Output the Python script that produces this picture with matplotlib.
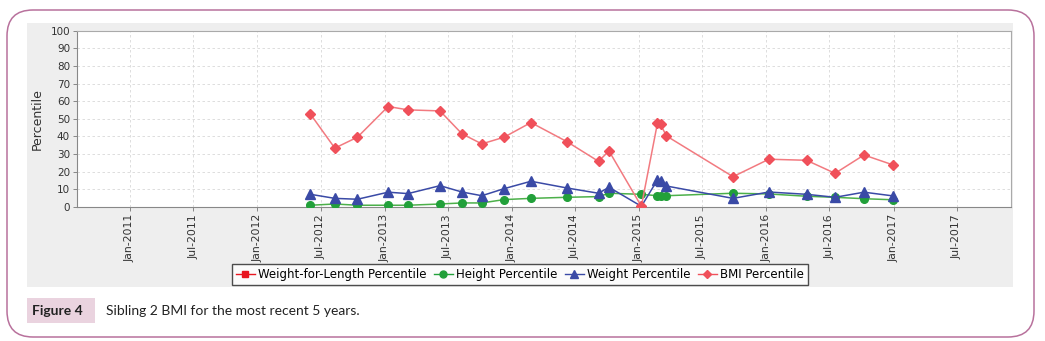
import datetime as dt

import matplotlib

matplotlib.use("Agg")
import matplotlib.pyplot as plt         # noqa: E402
from matplotlib.lines import Line2D     # noqa: E402
from matplotlib.patches import FancyBboxPatch, Rectangle  # noqa: E402

plt.rcParams["font.family"] = ["DejaVu Sans"]

# visit dates (Height / Weight / BMI were all measured at the same visits)
visit_dates = [
    "2012-06-02", "2012-08-11", "2012-10-15", "2013-01-11", "2013-03-09",
    "2013-06-09", "2013-08-11", "2013-10-07", "2013-12-10", "2014-02-25",
    "2014-06-08", "2014-09-07", "2014-10-07", "2015-01-08", "2015-02-23",
    "2015-03-04", "2015-03-21", "2015-09-28", "2016-01-09", "2016-04-26",
    "2016-07-17", "2016-10-08", "2016-12-30",
]
height_pct = [1.0, 1.7, 1.0, 1.0, 1.0, 1.7, 2.3, 2.3, 4.2, 4.9, 5.5, 5.9,
              7.8, 7.2, 6.4, 6.4, 6.4, 7.8, 7.4, 6.1, 5.5, 4.7, 4.1]
weight_pct = [7.2, 4.9, 4.4, 8.4, 7.6, 12.1, 8.5, 6.4, 10.4, 14.6, 10.8, 7.8,
              11.2, 0.4, 15.3, 15.0, 11.9, 4.9, 8.5, 7.2, 5.5, 8.4, 6.3]
bmi_pct = [52.7, 33.4, 39.6, 57.0, 55.1, 54.5, 41.5, 35.8, 39.6, 47.9, 37.1,
           25.9, 31.8, 0.4, 47.4, 46.8, 40.3, 17.2, 27.1, 26.5, 19.1, 29.5, 23.9]
wfl_pct = []  # no weight-for-length measurements in this period

tick_labels = ["Jan-2011", "Jul-2011", "Jan-2012", "Jul-2012", "Jan-2013",
               "Jul-2013", "Jan-2014", "Jul-2014", "Jan-2015", "Jul-2015",
               "Jan-2016", "Jul-2016", "Jan-2017", "Jul-2017"]
y_ticks = list(range(0, 101, 10))

W, H = 1045, 341
fig = plt.figure(figsize=(W / 100, H / 100), dpi=100)

# background layer in pixel coordinates: frame, grey panel, caption
bg = fig.add_axes([0, 0, 1, 1], zorder=0)
bg.set_xlim(0, W)
bg.set_ylim(H, 0)
bg.axis("off")
bg.add_patch(FancyBboxPatch((7, 10), 1027, 327,
                            boxstyle="round,pad=0,rounding_size=26",
                            fc="white", ec="#b8719c", lw=1.1))
bg.add_patch(Rectangle((27, 23), 986, 264, fc="#eeeeee", ec="none"))
bg.add_patch(Rectangle((27, 298), 68, 25, fc="#ead3df", ec="none"))
bg.text(32, 311, "Figure 4", fontsize=10, fontweight="bold",
        family=["Lato", "DejaVu Sans"], va="center", ha="left", color="#222222")
bg.text(106, 311, "Sibling 2 BMI for the most recent 5 years.", fontsize=10,
        family=["Lato", "DejaVu Sans"], va="center", ha="left", color="#222222")

# plot area
left, right, top, bottom = 77, 1011, 30.7, 207
ax = fig.add_axes([left / W, 1 - bottom / H, (right - left) / W, (bottom - top) / H],
                  zorder=1)
ax.set_facecolor("white")

dates = [dt.datetime.strptime(d, "%Y-%m-%d") for d in visit_dates]

ax.plot([], [], color="#e8151f", marker="s", markersize=5, lw=1)
ax.plot(dates, height_pct, color="#4cb04a", lw=1.1, marker="o", markersize=5.5,
        markerfacecolor="#22a03a", markeredgecolor="#22a03a", zorder=3)
ax.plot(dates, weight_pct, color="#3a4aa6", lw=1.1, marker="^", markersize=6.5,
        markerfacecolor="#3a4aa6", markeredgecolor="#3a4aa6", zorder=4)
ax.plot(dates, bmi_pct, color="#f27a80", lw=1.1, marker="D", markersize=5,
        markerfacecolor="#f0505a", markeredgecolor="#f0505a", zorder=5)

tick_dates = []
for lbl in tick_labels:
    mon, yr = lbl.split("-")
    tick_dates.append(dt.datetime(int(yr), 1 if mon == "Jan" else 7, 1))

ax.set_xlim(dt.datetime(2010, 8, 2), dt.datetime(2017, 12, 4))
ax.set_ylim(0, 100)
ax.set_xticks(tick_dates)
ax.set_xticklabels(tick_labels, rotation=90, fontsize=7.8, color="#333333")
ax.set_yticks(y_ticks)
ax.set_yticklabels([str(v) for v in y_ticks], fontsize=7.5, color="#333333")
ax.tick_params(length=3, width=0.6, color="#777777", pad=2)
ax.grid(True, color="#d8d8d8", linestyle=(0, (3, 3)), lw=0.6)
ax.set_axisbelow(True)
for side in ["top", "right"]:
    ax.spines[side].set_color("#aaaaaa")
    ax.spines[side].set_linewidth(0.8)
for side in ["left", "bottom"]:
    ax.spines[side].set_color("#888888")
    ax.spines[side].set_linewidth(0.8)
ax.set_ylabel("Percentile", fontsize=9, color="#333333", labelpad=5)

handles = [
    Line2D([], [], color="#e8151f", marker="s", markersize=5, lw=1),
    Line2D([], [], color="#22a03a", marker="o", markersize=5, lw=1),
    Line2D([], [], color="#3a4aa6", marker="^", markersize=6, lw=1),
    Line2D([], [], color="#f0505a", marker="D", markersize=4, lw=1),
]
labels = ["Weight-for-Length Percentile", "Height Percentile",
          "Weight Percentile", "BMI Percentile"]
leg = fig.legend(handles, labels, loc="center", ncol=4,
                 bbox_to_anchor=(520 / W, 1 - 274.5 / H), fontsize=8.5,
                 frameon=True, fancybox=False, handlelength=1.6,
                 handletextpad=0.3, columnspacing=0.6, borderpad=0.3,
                 borderaxespad=0)
leg.get_frame().set_edgecolor("#222222")
leg.get_frame().set_linewidth(1.0)
leg.set_zorder(3)

fig.savefig("out.png", dpi=100)
